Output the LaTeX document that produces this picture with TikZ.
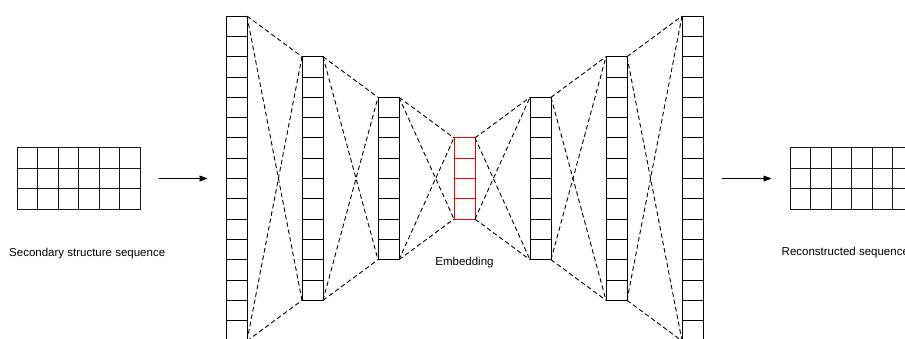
\documentclass[tikz,border=0pt]{standalone}
\usepackage{fontspec}
\setmainfont{Liberation Sans}
\usetikzlibrary{arrows.meta}
\begin{document}
\begin{tikzpicture}[x=1pt,y=-1pt,
  gridline/.style={line width=0.9pt, draw=black!90},
  layer/.style={draw, line width=0.9pt, minimum width=21pt, inner sep=0pt, outer sep=0pt},
  seqgrid/.style={draw=black!90, line width=0.9pt, minimum width=123pt, minimum height=62.1pt, inner sep=0pt, outer sep=0pt},
  link/.style={dash pattern=on 4.5pt off 3pt, line width=0.9pt},
  flow/.style={line width=0.9pt, -{Triangle[length=8pt,width=6pt]}, shorten <=18.5pt, shorten >=18.5pt},
  caption/.style={font=\fontsize{11.5}{13}\selectfont, inner sep=0pt}]
\path[use as bounding box] (0,0) rectangle (905,338);
\clip (0,0) rectangle (905,338);

% input and output sequence grids (6 x 3 cells)
\node[seqgrid] (src) at (78.5,178.5) {};
\node[seqgrid] (tgt) at (851.5,178.5) {};
\foreach \g in {src,tgt} {
  \foreach \i in {1,...,5} \draw[gridline] (\g.north west) ++(\i*20.5,0) -- ++(0,62.1);
  \foreach \j in {1,2} \draw[gridline] (\g.north west) ++(0,\j*20.7) -- ++(123,0);
}

% encoder / bottleneck / decoder layers
\foreach \nm/\cx/\n/\col in {c1/236.5/16/black, c2/312.5/12/black, c3/388.5/8/black,
    emb/464.5/4/red, c5/540.5/8/black, c6/616.5/12/black, c7/692.5/16/black} {
  \node[layer, draw=\col, minimum height=\n*20.3pt] (\nm) at (\cx,178.5) {};
  \pgfmathtruncatemacro\m{\n-1}
  \foreach \k in {1,...,\m} \draw[\col, line width=0.9pt] (\nm.north west) ++(0,\k*20.3) -- ++(21,0);
}

% dashed connections between neighbouring layers
\foreach \a/\b in {c1/c2, c2/c3, c3/emb, emb/c5, c5/c6, c6/c7} {
  \draw[link] (\a.north east) -- (\b.north west);
  \draw[link] (\a.north east) -- (\b.south west);
  \draw[link] (\a.south east) -- (\b.north west);
  \draw[link] (\a.south east) -- (\b.south west);
}

% arrows
\draw[flow] (src.east) -- (c1.west);
\draw[flow] (c7.east) -- (tgt.west);

% labels
\node[caption, anchor=base west] (srclbl) at (9,256) {Secondary structure sequence};
\node[caption, anchor=base] (emblbl) at (464.5,265) {Embedding};
\node[caption, anchor=base west] (tgtlbl) at (781.5,255) {Reconstructed sequence};
\end{tikzpicture}
\end{document}
